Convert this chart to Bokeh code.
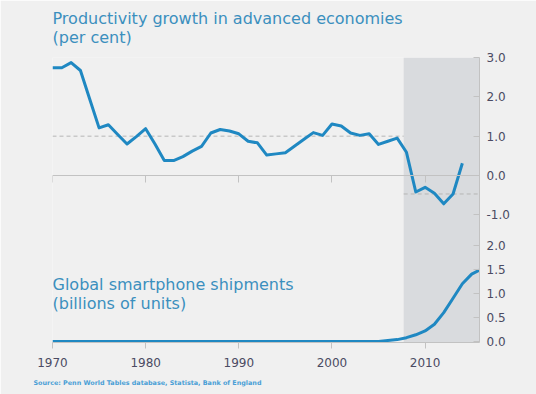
from bokeh.plotting import figure
from bokeh.models import (Range1d, FixedTicker, BoxAnnotation, Label, LinearAxis,
                          Title, CustomJSTickFormatter)
from bokeh.embed import file_html
from bokeh.resources import INLINE

# ---------------- data ----------------
years = list(range(1970, 2015))
productivity = [2.74, 2.74, 2.87, 2.67, 1.94, 1.21, 1.29, 1.04, 0.80, 0.99,
                1.19, 0.80, 0.38, 0.38, 0.48, 0.62, 0.74, 1.08, 1.17, 1.13,
                1.06, 0.87, 0.83, 0.52, 0.55, 0.58, 0.75, 0.92, 1.09, 1.02,
                1.31, 1.26, 1.08, 1.02, 1.06, 0.79, 0.87, 0.95, 0.59, -0.42,
                -0.30, -0.45, -0.72, -0.47, 0.31]

smart_years = [1970, 2005, 2006, 2007, 2008, 2009, 2010, 2011, 2012, 2013, 2014, 2015, 2016]
shipments = [0.0, 0.0, 0.02, 0.04, 0.08, 0.14, 0.22, 0.36, 0.60, 0.90, 1.20, 1.40, 1.50]

pre_crisis_avg = 1.0
post_crisis_avg = -0.47
crisis_start = 2007.7
x_start, x_end = 1970, 2015.84

x_ticks = [1970, 1980, 1990, 2000, 2010]
prod_ticks = [-1, 0, 1, 2, 3]
ship_ticks = [0, 0.5, 1.0, 1.5, 2.0]

title_top = "Productivity growth in advanced economies\n(per cent)"
title_bottom = "Global smartphone shipments\n(billions of units)"
source_text = "Source: Penn World Tables database, Statista, Bank of England"

# ---------------- styles ----------------
BG = "#f0f0f0"
BAND = "#d9dbde"
LINE = "#1f88c2"
TITLE_C = "#3b8fbe"
TICK_C = "#4b4b63"
AXIS_C = "#c2c2c2"
FONT = "DejaVu Sans"

# productivity scale (main) and smartphone scale (extra) share one frame
T0, T1 = -4.246, 3.0
S0, S1 = -0.02, 5.899

def ship_to_main(v):
    return T0 + (v - S0) * (T1 - T0) / (S1 - S0)

p = figure(width=536, height=394,
           x_range=Range1d(x_start, x_end), y_range=Range1d(T0, T1),
           output_backend="svg", toolbar_location=None, y_axis_location="right",
           min_border_left=52, min_border_right=57, min_border_top=57,
           min_border_bottom=52, background_fill_color=BG, border_fill_color=BG,
           outline_line_color=None)
p.grid.visible = False
p.extra_y_ranges = {"ship": Range1d(S0, S1)}

# title (two lines)
p.title = Title(text=title_top, text_font=FONT, text_font_size="16px",
                text_font_style="normal", text_color=TITLE_C, align="left",
                text_line_height=1.0, vertical_align="top", standoff=17)

# shaded crisis period
p.add_layout(BoxAnnotation(left=crisis_start, fill_color=BAND, fill_alpha=1.0,
                           line_color=None, level="underlay"))

# bottom x axis (with year labels)
bx = p.xaxis[0]
bx.ticker = FixedTicker(ticks=x_ticks)
bx.major_tick_in = 0
bx.major_tick_out = 6
bx.minor_tick_line_color = None
bx.axis_line_color = AXIS_C
bx.major_tick_line_color = AXIS_C
bx.major_label_text_color = TICK_C
bx.major_label_text_font = FONT
bx.major_label_text_font_size = "12px"
bx.major_label_standoff = 9

# source line below the axis
p.add_layout(Title(text=source_text, text_font=FONT, text_font_size="6.4px",
                   text_font_style="bold", text_color="#4a9fd6", align="left",
                   offset=-19, standoff=14, vertical_align="bottom"), "below")

# zero line of productivity panel with year ticks, no labels
zx = LinearAxis(fixed_location=0, ticker=FixedTicker(ticks=x_ticks),
                formatter=CustomJSTickFormatter(code="return ''"))
zx.major_tick_in = 0
zx.major_tick_out = 7
zx.minor_tick_line_color = None
zx.axis_line_color = AXIS_C
zx.major_tick_line_color = AXIS_C
p.add_layout(zx, "below")

# right axis: productivity ticks above, smartphone ticks below (converted)
ry = p.yaxis[0]
ry.ticker = FixedTicker(ticks=prod_ticks + [ship_to_main(v) for v in ship_ticks])
ry.formatter = CustomJSTickFormatter(
    args=dict(t0=T0, t1=T1, s0=S0, s1=S1, split=-1.5),
    code="""
    let v = tick;
    if (tick < split) { v = s0 + (tick - t0) * (s1 - s0) / (t1 - t0); }
    if (Math.abs(v) < 1e-9) { v = 0; }
    return v.toFixed(1);
    """)
ry.major_tick_in = 6
ry.major_tick_out = 0
ry.minor_tick_line_color = None
ry.axis_line_color = AXIS_C
ry.major_tick_line_color = AXIS_C
ry.major_label_text_color = TICK_C
ry.major_label_text_font = FONT
ry.major_label_text_font_size = "12px"
ry.major_label_standoff = 7

# average lines
p.line([x_start, crisis_start], [pre_crisis_avg, pre_crisis_avg],
       line_color="#b5b5b5", line_dash="4 3", line_width=1)
p.line([crisis_start, x_end], [post_crisis_avg, post_crisis_avg],
       line_color="#b5b5b5", line_dash="4 3", line_width=1)

# series
p.line(years, productivity, line_color=LINE, line_width=3, line_join="round")
p.line(smart_years, shipments, line_color=LINE, line_width=3, line_join="round",
       y_range_name="ship")

# lower panel title
p.add_layout(Label(x=0, y=68, x_units="screen", y_units="screen", text=title_bottom,
                   text_baseline="top", text_font=FONT, text_font_size="16px",
                   text_color=TITLE_C, text_line_height=1.0))

open("out.html", "w").write(file_html(p, INLINE))
